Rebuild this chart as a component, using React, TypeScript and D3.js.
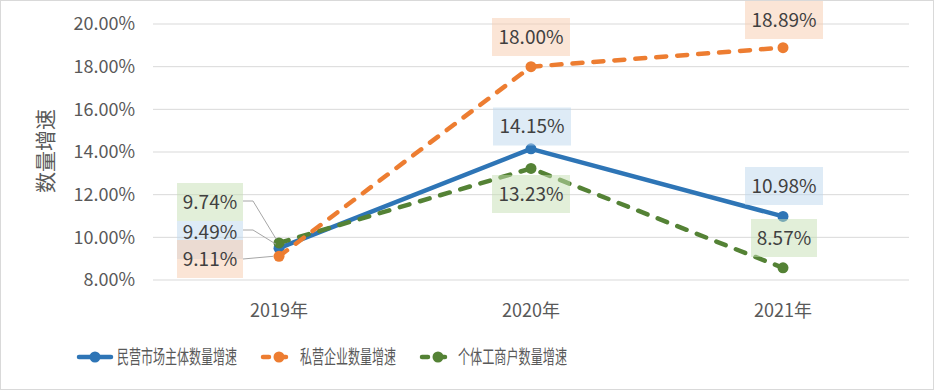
import { useRef, useEffect } from "react";
import * as d3 from "d3";

const years = ["2019年", "2020年", "2021年"];
const seriesNames = ["民营市场主体数量增速", "私营企业数量增速", "个体工商户数量增速"];
const minying = [9.49, 14.15, 10.98];
const siying = [9.11, 18.0, 18.89];
const geti = [9.74, 13.23, 8.57];
const yTicks = [8, 10, 12, 14, 16, 18, 20];

const colors = ["#2e75b6", "#ed7d31", "#548235"];
const boxFills = ["rgba(189,215,238,0.5)", "rgba(248,203,173,0.5)", "rgba(197,224,180,0.5)"];

export default function App() {
  const svgRef = useRef<SVGSVGElement>(null);

  useEffect(() => {
    if (!svgRef.current) return;
    const svg = d3.select(svgRef.current);
    svg.selectAll("*").remove();
    const font = "'Noto Sans CJK SC', 'Noto Sans', sans-serif";

    // outer frame
    svg.append("rect")
      .attr("x", 0.5).attr("y", 0.5).attr("width", 933).attr("height", 389)
      .attr("fill", "#fff").attr("stroke", "#d9d9d9");

    const x = d3.scaleBand().domain(years).range([153, 909]);
    const cx = (d: string) => (x(d) as number) + x.bandwidth() / 2;
    const y = d3.scaleLinear().domain([8, 20]).range([280, 24]);

    // grid
    svg.append("g").selectAll("line").data(yTicks).join("line")
      .attr("x1", 153).attr("x2", 909)
      .attr("y1", (d) => y(d)).attr("y2", (d) => y(d))
      .attr("stroke", "#d9d9d9").attr("stroke-width", 1);

    svg.append("g").selectAll("text").data(yTicks).join("text")
      .attr("x", 135).attr("y", (d) => y(d)).attr("dy", "0.35em")
      .attr("text-anchor", "end").attr("fill", "#595959")
      .attr("font-size", 18).attr("font-family", font)
      .text((d) => d.toFixed(2) + "%");

    svg.append("g").selectAll("text").data(years).join("text")
      .attr("x", cx).attr("y", 311).attr("dy", "0.35em")
      .attr("text-anchor", "middle").attr("fill", "#595959")
      .attr("font-size", 18).attr("font-family", font)
      .text((d) => d);

    svg.append("text")
      .attr("transform", "translate(46,151) rotate(-90)")
      .attr("text-anchor", "middle").attr("dy", "0.35em")
      .attr("fill", "#595959").attr("font-size", 21).attr("font-family", font)
      .text("数量增速");

    const all = [minying, siying, geti];
    const dashes = [null, "10,11", "10,11"];
    const line = d3.line<number>().x((_, i) => cx(years[i])).y((d) => y(d));

    // lines: blue, green, orange order (orange on top)
    [0, 2, 1].forEach((s) => {
      svg.append("path")
        .attr("d", line(all[s]))
        .attr("fill", "none").attr("stroke", colors[s])
        .attr("stroke-width", 4.5).attr("stroke-linecap", "round")
        .attr("stroke-linejoin", "round")
        .attr("stroke-dasharray", dashes[s]);
      svg.append("g").selectAll("circle").data(all[s]).join("circle")
        .attr("cx", (_, i) => cx(years[i])).attr("cy", (d) => y(d))
        .attr("r", 5.5).attr("fill", colors[s]);
    });

    // data labels: [series, index, centerX, centerY]
    const labels: [number, number, number, number][] = [
      [1, 1, 531, 37], [1, 2, 784, 20],
      [0, 1, 532, 126.5], [2, 1, 531, 194],
      [0, 2, 784, 186], [2, 2, 784, 238],
      [2, 0, 210, 202], [0, 0, 210, 240], [1, 0, 210, 259],
    ];
    // leader lines for 2019
    const leaders: [number, number][] = [[2, 201], [0, 230], [1, 259]];
    leaders.forEach(([s, ly]) => {
      const px = cx(years[0]), py = y(all[s][0]);
      const pts: [number, number][] = s === 1
        ? [[243, ly], [px - 6, py]]
        : [[243, ly], [253, ly], [px - 3, py - 4]];
      svg.append("path").attr("d", d3.line()(pts))
        .attr("fill", "none").attr("stroke", "#a6a6a6").attr("stroke-width", 1);
    });

    labels.forEach(([s, i, lx, ly]) => {
      const txt = all[s][i].toFixed(2) + "%";
      const w = txt.length > 5 ? 78 : 66;
      svg.append("rect")
        .attr("x", lx - w / 2).attr("y", ly - 19).attr("width", w).attr("height", 38)
        .attr("fill", boxFills[s]);
    });
    labels.forEach(([s, i, lx, ly]) => {
      const tyOff = s === 0 && i === 0 ? -8 : 0;
      svg.append("text")
        .attr("x", lx).attr("y", ly + tyOff).attr("dy", "0.35em")
        .attr("text-anchor", "middle").attr("fill", "#404040")
        .attr("font-size", 19).attr("font-family", font)
        .text(all[s][i].toFixed(2) + "%");
    });

    // legend
    const legend = [
      { x: 77, tx: 117, tw: 120 },
      { x: 261, tx: 300, tw: 96 },
      { x: 420, tx: 458, tw: 109 },
    ];
    legend.forEach((l, s) => {
      const g = svg.append("g");
      g.append("line")
        .attr("x1", l.x + 2).attr("x2", l.x + 34).attr("y1", 357).attr("y2", 357)
        .attr("stroke", colors[s]).attr("stroke-width", 4.5).attr("stroke-linecap", "round")
        .attr("stroke-dasharray", s === 0 ? null : "6,11");
      g.append("circle").attr("cx", l.x + 18).attr("cy", 357).attr("r", 5.5).attr("fill", colors[s]);
      g.append("text")
        .attr("x", l.tx).attr("y", 357).attr("dy", "0.35em")
        .attr("fill", "#595959").attr("font-size", 19).attr("font-family", font)
        .attr("textLength", l.tw).attr("lengthAdjust", "spacingAndGlyphs")
        .text(seriesNames[s]);
    });
  }, []);

  return (
    <svg ref={svgRef} width={934} height={390}
      style={{ position: "absolute", left: 0, top: 0, display: "block" }} />
  );
}
